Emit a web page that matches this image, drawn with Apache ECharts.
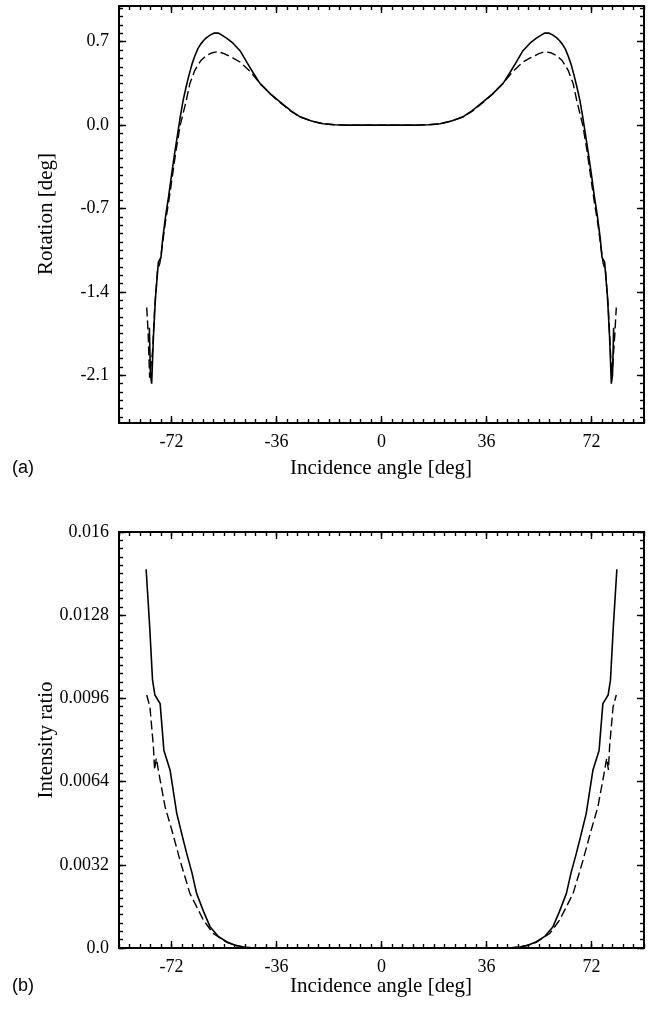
<!DOCTYPE html>
<html>
<head>
<meta charset="utf-8">
<script src="https://cdn.jsdelivr.net/npm/echarts@6.0.0/dist/echarts.min.js"></script>
<style>
  html, body { margin: 0; padding: 0; background: #fff; }
  #chart { width: 651px; height: 1015px; }
</style>
</head>
<body>
<div id="chart"></div>
<script>
// tick labels
var angleTicks = [-72, -36, 0, 36, 72];
var rotationTicks = [-2.1, -1.4, -0.7, 0, 0.7];
var ratioTicks = [0, 0.0032, 0.0064, 0.0096, 0.0128, 0.016];

// (a) rotation, solid and dashed curves  [angle, deg]
var rotationSolid = [
  [-79.6, -1.70], [-79.2, -2.10], [-78.8, -2.17], [-78.2, -1.78], [-77.5, -1.45],
  [-76.5, -1.15], [-75.6, -1.11], [-75, -0.95], [-74, -0.76], [-73, -0.60],
  [-72, -0.42], [-71, -0.25], [-70, -0.09], [-69, 0.07], [-68, 0.21],
  [-67, 0.32], [-66, 0.42], [-65, 0.51], [-64, 0.58], [-63, 0.64],
  [-62, 0.68], [-61, 0.71], [-60, 0.735], [-58.5, 0.76], [-57.5, 0.772],
  [-56, 0.773], [-55, 0.76], [-53, 0.728], [-51, 0.69], [-48.5, 0.625],
  [-46, 0.52], [-44, 0.44], [-41.7, 0.35], [-38, 0.26], [-34.8, 0.195],
  [-31, 0.12], [-27.9, 0.07], [-24, 0.035], [-20, 0.012], [-16, 0.003],
  [-12, 0], [-6, 0], [0, 0], [6, 0], [12, 0],
  [16, 0.003], [20, 0.012], [24, 0.035], [27.9, 0.07], [31, 0.12],
  [34.8, 0.195], [38, 0.26], [41.7, 0.35], [44, 0.44], [46, 0.52],
  [48.5, 0.625], [51, 0.69], [53, 0.728], [55, 0.76], [56, 0.773],
  [57.5, 0.772], [58.5, 0.76], [60, 0.735], [61, 0.71], [62, 0.68],
  [63, 0.64], [64, 0.58], [65, 0.51], [66, 0.42], [67, 0.32],
  [68, 0.21], [69, 0.07], [70, -0.09], [71, -0.25], [72, -0.42],
  [73, -0.60], [74, -0.76], [75, -0.95], [75.6, -1.11], [76.5, -1.15],
  [77.5, -1.45], [78.2, -1.78], [78.8, -2.17], [79.2, -2.10], [79.6, -1.70]
];
var rotationDashed = [
  [-80.5, -1.53], [-80, -1.75], [-79.5, -2.12], [-79, -2.12], [-78.5, -1.90],
  [-77.8, -1.55], [-76.8, -1.22], [-76, -1.16], [-75.2, -1.02], [-74.2, -0.83],
  [-73, -0.65], [-72, -0.48], [-70.5, -0.22], [-69, 0.0], [-68, 0.10],
  [-67, 0.20], [-65.7, 0.35], [-64, 0.46], [-62, 0.54], [-60, 0.585],
  [-58, 0.608], [-56, 0.617], [-54, 0.60], [-51, 0.565], [-48.5, 0.53],
  [-45, 0.45], [-42, 0.36], [-38, 0.26], [-34.8, 0.19], [-31, 0.115],
  [-27.9, 0.068], [-24, 0.034], [-20, 0.011], [-16, 0.003], [-12, 0],
  [0, 0],
  [12, 0], [16, 0.003], [20, 0.011], [24, 0.034], [27.9, 0.068],
  [31, 0.115], [34.8, 0.19], [38, 0.26], [42, 0.36], [45, 0.45],
  [48.5, 0.53], [51, 0.565], [54, 0.60], [56, 0.617], [58, 0.608],
  [60, 0.585], [62, 0.54], [64, 0.46], [65.7, 0.35], [67, 0.20],
  [68, 0.10], [69, 0.0], [70.5, -0.22], [72, -0.48], [73, -0.65],
  [74.2, -0.83], [75.2, -1.02], [76, -1.16], [76.8, -1.22], [77.8, -1.55],
  [78.5, -1.90], [79, -2.12], [79.5, -2.12], [80, -1.75], [80.5, -1.53]
];

// (b) intensity ratio, solid and dashed curves  [angle, ratio]
var ratioSolid = [
  [-80.7, 0.01457], [-79.5, 0.0124], [-78.5, 0.0103], [-77.7, 0.00973], [-75.9, 0.0094],
  [-74.6, 0.0076], [-72.5, 0.00685], [-70.2, 0.00518], [-68.5, 0.0044], [-66.8, 0.00364],
  [-65, 0.0029], [-63.4, 0.0021], [-61, 0.0014], [-58.8, 0.00082], [-56, 0.00045],
  [-53.1, 0.00024], [-50, 0.0001], [-47.4, 0.00004], [-43.7, 0], [0, 0],
  [43.7, 0], [47.4, 0.00004], [50, 0.0001], [53.1, 0.00024], [56, 0.00045],
  [58.8, 0.00082], [61, 0.0014], [63.4, 0.0021], [65, 0.0029], [66.8, 0.00364],
  [68.5, 0.0044], [70.2, 0.00518], [72.5, 0.00685], [74.6, 0.0076], [75.9, 0.0094],
  [77.7, 0.00973], [78.5, 0.0103], [79.5, 0.0124], [80.7, 0.01457]
];
var ratioDashed = [
  [-80.5, 0.00973], [-79.4, 0.00928], [-78.2, 0.00774], [-77.8, 0.00685], [-77.2, 0.0073],
  [-76.6, 0.0069], [-75.9, 0.00646], [-74.2, 0.00543], [-71.9, 0.00454], [-69.1, 0.00338],
  [-65.7, 0.0021], [-61.1, 0.00108], [-57.7, 0.00056], [-53.1, 0.00022], [-50, 0.0001],
  [-47.4, 0.00004], [-43.7, 0], [0, 0],
  [43.7, 0], [47.4, 0.00004], [50, 0.0001], [53.1, 0.00022], [57.7, 0.00056],
  [61.1, 0.00108], [65.7, 0.0021], [69.1, 0.00338], [71.9, 0.00454], [74.2, 0.00543],
  [75.9, 0.00646], [76.6, 0.0069], [77.2, 0.0073], [77.8, 0.00685], [78.2, 0.00774],
  [79.4, 0.00928], [80.5, 0.00973]
];

var serif = '"Liberation Serif", "DejaVu Serif", serif';
var sans = '"Liberation Sans", Arial, sans-serif';

function steps(from, to, step) {
  var out = [];
  for (var k = 0; from + k * step <= to + 1e-9; k++) out.push(+(from + k * step).toFixed(6));
  return out;
}

// major + minor ticks on both sides of a frame
function axisSet(kind, grid, min, max, majors, minors, fmt) {
  var sides = kind === 'x' ? ['bottom', 'top'] : ['left', 'right'];
  var list = [];
  sides.forEach(function (side, s) {
    [majors, minors].forEach(function (vals, m) {
      list.push({
        type: 'value', gridIndex: grid, position: side, min: min, max: max,
        axisLine: { show: false, onZero: false }, splitLine: { show: false },
        axisTick: { show: true, inside: true, length: m === 0 ? 7 : 4, customValues: vals,
          lineStyle: { color: '#000', width: 1.4 } },
        axisLabel: { show: s === 0 && m === 0, customValues: majors, formatter: fmt,
          color: '#000', fontFamily: serif, fontSize: 18, margin: 10 }
      });
    });
  });
  return list;
}

var angleMinor = steps(-90, 90, 3.6);
var rotationMinor = steps(-2.45, 0.98, 0.07);
var ratioMinor = steps(0, 0.016, 0.00032);

var fmtAngle = function (v) { return String(Math.round(v)); };
var fmtRot = function (v) { return v.toFixed(1); };
var fmtRatio = function (v) { return v === 0 ? '0.0' : String(+v.toFixed(4)); };

var xAxes = axisSet('x', 0, -90, 90, angleTicks, angleMinor, fmtAngle)
  .concat(axisSet('x', 1, -90, 90, angleTicks, angleMinor, fmtAngle));
var yAxes = axisSet('y', 0, -2.5, 1.0, rotationTicks, rotationMinor, fmtRot)
  .concat(axisSet('y', 1, 0, 0.016, ratioTicks, ratioMinor, fmtRatio));

function curve(data, xi, yi, dashed) {
  return {
    type: 'line', data: data, xAxisIndex: xi, yAxisIndex: yi,
    showSymbol: false, symbol: 'none', silent: true, clip: true,
    lineStyle: { color: '#000', width: dashed ? 1.4 : 1.6, type: dashed ? [9, 4] : 'solid' }
  };
}

function label(text, x, y, font, align, rot) {
  return { type: 'text', x: x, y: y, rotation: rot || 0,
    style: { text: text, font: font, fill: '#000', align: align || 'center', verticalAlign: 'middle' } };
}

var chart = echarts.init(document.getElementById('chart'), null, { renderer: 'canvas' });
chart.setOption({
  animation: false,
  backgroundColor: '#fff',
  grid: [
    { left: 119, top: 6, width: 525, height: 417, show: true, borderColor: '#000', borderWidth: 2 },
    { left: 119, top: 532, width: 525, height: 416, show: true, borderColor: '#000', borderWidth: 2 }
  ],
  xAxis: xAxes,
  yAxis: yAxes,
  series: [
    curve(rotationSolid, 0, 0, false),
    curve(rotationDashed, 0, 0, true),
    curve(ratioSolid, 4, 4, false),
    curve(ratioDashed, 4, 4, true)
  ],
  graphic: [
    label('Incidence angle [deg]', 381, 468, '21px ' + serif),
    label('Incidence angle [deg]', 381, 986, '21px ' + serif),
    label('(a)', 12, 468, '18px ' + sans, 'left'),
    label('(b)', 12, 986, '18px ' + sans, 'left'),
    label('Rotation [deg]', 46, 214, '21px ' + serif, 'center', Math.PI / 2),
    label('Intensity ratio', 46, 740, '21px ' + serif, 'center', Math.PI / 2)
  ]
});
</script>
</body>
</html>
